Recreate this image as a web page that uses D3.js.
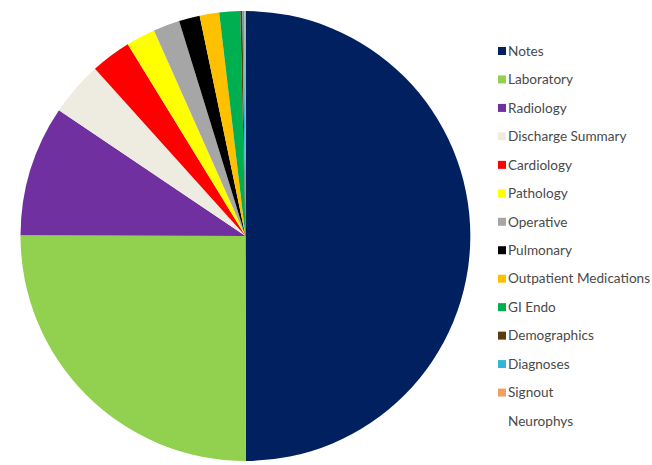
<!DOCTYPE html>
<html><head><meta charset="utf-8">
<script src="https://cdn.jsdelivr.net/npm/d3@7"></script>
<style>body{margin:0;background:#fff;}svg{display:block;}</style>
</head><body>
<svg id="c" width="652" height="465"></svg>
<script>
const categories = ["Notes","Laboratory","Radiology","Discharge Summary","Cardiology","Pathology","Operative","Pulmonary","Outpatient Medications","GI Endo","Demographics","Diagnoses","Signout","Neurophys"];
const values = [50.0,25.1,9.4,3.9,2.9,2.1,1.9,1.5,1.4,1.5,0.15,0.15,0.05,0.02];
const colors = ["#002060","#92D050","#7030A0","#EEECE1","#FF0000","#FFFF00","#A6A6A6","#000000","#FFC000","#00B050","#5C3A12","#31B6D8","#F0A060","#FFFFFF"];

const data = categories.map((c,i)=>({name:c,value:values[i],color:colors[i]}));
const svg = d3.select("#c");
const cx = 245.5, cy = 236, r = 225;
const pie = d3.pie().sort(null).value(d=>d.value);
const arc = d3.arc().innerRadius(0).outerRadius(r);
svg.append("g").attr("transform",`translate(${cx},${cy})`)
  .selectAll("path").data(pie(data)).join("path")
  .attr("d",arc).attr("fill",d=>d.data.color);

const leg = svg.append("g");
const ly = d3.scalePoint().domain(categories).range([51,421]);
const items = leg.selectAll("g").data(data).join("g")
  .attr("transform",d=>`translate(498,${ly(d.name)})`);
items.append("rect").attr("x",0).attr("y",-4).attr("width",8).attr("height",8)
  .attr("fill",d=>d.color);
items.append("text").attr("x",10).attr("y",0).attr("dy","0.35em")
  .attr("font-family","Lato, 'Open Sans', sans-serif").attr("font-size",13.6)
  .attr("fill","#4a4a4a").text(d=>d.name);
</script>
</body></html>
